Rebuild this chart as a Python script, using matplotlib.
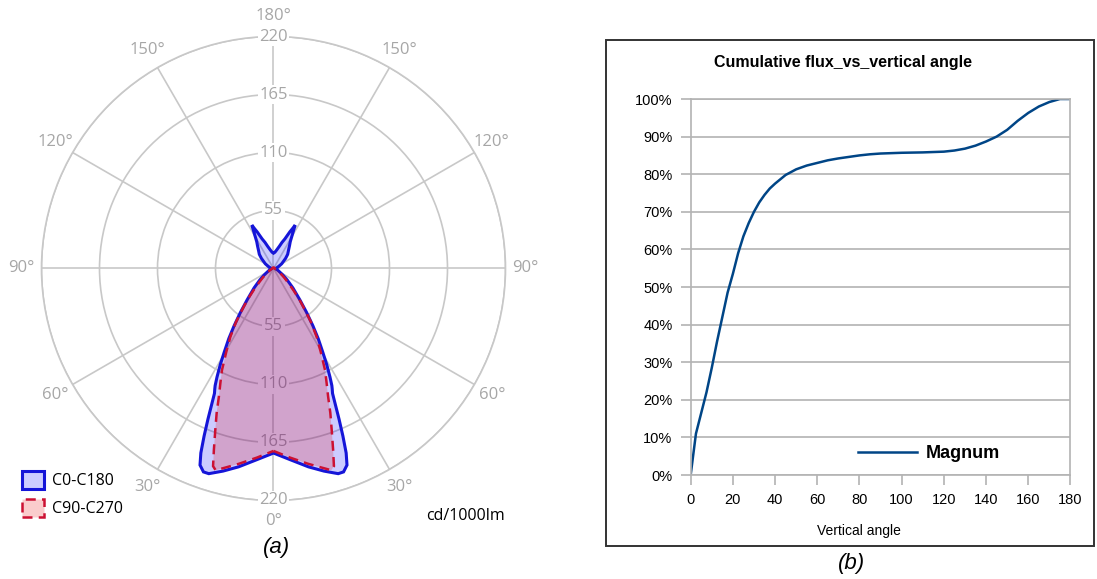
import numpy as np
import matplotlib.pyplot as plt
from matplotlib.ticker import PercentFormatter

# --- (a) polar intensity curve, cd/1000lm, one half (the other half is mirrored)
gamma_c0 = [0, 5, 10, 14, 17.5, 19, 20.5, 21.5, 22.5, 23.5, 24.5, 25.3, 26, 26.5,
            27.5, 29, 30.5, 32.5, 34.5, 37, 40, 45, 50, 55, 60, 70, 80, 90, 100,
            110, 120, 130, 135, 140, 145, 148, 151, 153.5, 154.5, 156, 159, 162,
            165, 170, 175, 180]
cd_c0 = [175, 182, 191, 198, 204, 204, 199, 188, 172, 156, 141, 131, 127, 124,
         116, 104, 92, 79, 66, 52, 39, 26, 17, 11, 7, 4, 2, 2, 3,
         5, 9, 15, 19, 22, 26.5, 30, 37, 46, 42, 38, 30, 26,
         22, 18, 15.5, 14.5]

gamma_c90 = [0, 5, 10, 14, 16, 17, 18.2, 19.8, 21.5, 23.1, 25, 26.9, 29.5, 32.3,
             35, 37.2, 40, 42.6, 46, 50, 55, 60, 70, 80, 90, 120, 150, 180]
cd_c90 = [173, 180, 188, 195, 199, 196, 181, 163, 147, 132, 119, 108, 91, 76.5,
          62, 49.4, 38, 27.7, 19, 13, 8, 5, 2.5, 1.5, 1, 1, 1, 1]

r_ticks = [55, 110, 165, 220]
theta_ticks = list(range(0, 360, 30))
theta_labels = ['0°', '30°', '60°', '90°', '120°', '150°', '180°',
                '150°', '120°', '90°', '60°', '30°']

# --- (b) cumulative flux
angle = [0, 2.5, 5, 7.5, 10, 12.5, 15, 17.5, 20, 22.5, 25, 27.5, 30, 32.5, 35,
         37.5, 40, 45, 50, 55, 60, 65, 70, 75, 80, 85, 90, 100, 110, 120, 125,
         130, 135, 140, 145, 150, 155, 160, 165, 170, 175, 180]
flux = [0, 11, 16.5, 22, 28.5, 35.5, 42, 48.5, 53.5, 59, 63.5, 67, 70, 72.5, 74.5,
        76.2, 77.5, 79.8, 81.3, 82.3, 83, 83.7, 84.2, 84.6, 85, 85.3, 85.5, 85.7,
        85.8, 86, 86.3, 86.8, 87.6, 88.7, 90, 91.8, 94.2, 96.3, 98, 99.2, 100, 100]


def mirrored(g, v):
    # right half theta = gamma, left half theta = 360 - gamma
    g = np.radians(np.array(g, dtype=float))
    v = np.array(v, dtype=float)
    theta = np.concatenate([g, 2 * np.pi - g[::-1]])
    r = np.concatenate([v, v[::-1]])
    return theta, r


fig = plt.figure(figsize=(10.97, 5.79), dpi=100)

poly_font = 'Open Sans'
grey_txt = '#a6a6a6'
grid_col = '#c8c8c8'

ax = fig.add_axes([0.03783, 0.13558, 0.42297, 0.80138], projection='polar')
ax.set_theta_zero_location('S')
ax.set_theta_direction(1)
ax.set_rlim(0, 220)
ax.set_yticks(r_ticks)
ax.set_yticklabels([])
ax.set_thetagrids(theta_ticks, theta_labels)
ax.set_axisbelow(True)
ax.grid(True, color=grid_col, lw=1.2)
ax.spines['polar'].set_color(grid_col)
ax.spines['polar'].set_linewidth(1.2)
ax.tick_params(axis='x', pad=4, labelsize=12, labelcolor=grey_txt)
for lab in ax.get_xticklabels():
    lab.set_fontfamily(poly_font)

t0, r0 = mirrored(gamma_c0, cd_c0)
t90, r90 = mirrored(gamma_c90, cd_c90)
pb, = ax.fill(t0, r0, facecolor=(0, 0, 1, 0.2), edgecolor='#1515d8', lw=2.2,
              zorder=2, label='C0-C180')
pr, = ax.fill(t90, r90, facecolor=(0.9, 0, 0, 0.2), edgecolor='#cc1133', lw=1.8,
              ls=(0, (4, 2.5)), zorder=2.2, label='C90-C270')

for rv in r_ticks:
    z = 3 if rv == 220 else 1.5
    for th in (0, np.pi):
        ax.text(th, rv, str(rv), ha='center', va='center', fontsize=12,
                color=grey_txt, family=poly_font, zorder=z,
                bbox=dict(boxstyle='square,pad=0.1', fc='white', ec='none'))

fig.legend(handles=[pb, pr], loc='upper left',
           bbox_to_anchor=(22 / 1097, 1 - 471 / 579), frameon=False,
           borderpad=0, borderaxespad=0, labelspacing=0.6,
           handlelength=1.35, handleheight=1.35, handletextpad=0.5,
           prop={'family': poly_font, 'size': 11.5})
fig.text(505 / 1097, 1 - 516 / 579, 'cd/1000lm', ha='right', va='center',
         fontsize=11.5, family=poly_font)
fig.text(277 / 1097, 1 - 548 / 579, '(a)', ha='center', va='center',
         fontsize=16, style='italic', family='Liberation Sans')

# --- right panel
arial = 'Liberation Sans'
line_grey = '#b3b3b3'

frame = plt.Rectangle((606 / 1097, 1 - 546 / 579), (1094 - 606) / 1097,
                      (546 - 40) / 579, transform=fig.transFigure,
                      fill=False, edgecolor='#333333', lw=1.4)
fig.patches.append(frame)

ax2 = fig.add_axes([0.6296, 0.1796, 0.3462, 0.6494])
ax2.plot(angle, flux, color='#004586', lw=1.8, label='Magnum')
ax2.set_xlim(0, 180)
ax2.set_ylim(0, 100)
ax2.set_xticks(range(0, 181, 20))
ax2.set_yticks(range(0, 101, 10))
ax2.yaxis.set_major_formatter(PercentFormatter(xmax=100, decimals=0))
ax2.yaxis.grid(True, color=line_grey, lw=1.2)
ax2.set_axisbelow(True)
for s in ax2.spines.values():
    s.set_color(line_grey)
    s.set_linewidth(1.2)
ax2.tick_params(direction='out', length=7, width=1.2, color=line_grey,
                labelsize=10.5, pad=6)
for lab in ax2.get_xticklabels() + ax2.get_yticklabels():
    lab.set_fontfamily(arial)

ax2.set_xlabel('Vertical angle', fontsize=10, family=arial)
ax2.xaxis.set_label_coords(0.444, -0.13)

ax2.legend(loc='center left', bbox_to_anchor=(858 / 1097, 1 - 454 / 579),
           bbox_transform=fig.transFigure, frameon=False, borderpad=0,
           borderaxespad=0, handlelength=3.27, handletextpad=0.5,
           prop={'family': arial, 'weight': 'bold', 'size': 13})

fig.text(843 / 1097, 1 - 63 / 579, 'Cumulative flux_vs_vertical angle',
         ha='center', va='center', fontsize=11.5, weight='bold', family=arial)
fig.text(852 / 1097, 1 - 563 / 579, '(b)', ha='center', va='center',
         fontsize=16, style='italic', family=arial)

fig.savefig('out.png', dpi=100)
